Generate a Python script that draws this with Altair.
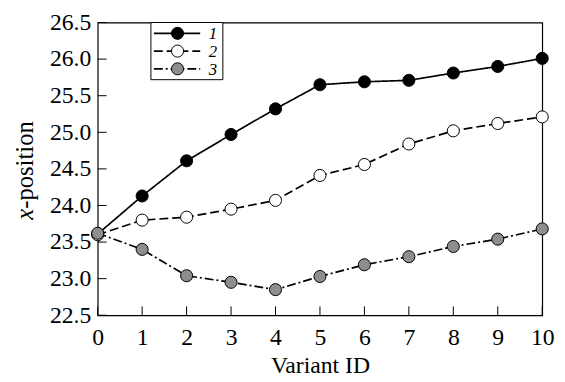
import altair as alt
import pandas as pd

# ---- data ----
variant_ids = list(range(11))
series_1 = [23.61, 24.13, 24.61, 24.97, 25.32, 25.65, 25.69, 25.71, 25.81, 25.90, 26.01]
series_2 = [23.60, 23.80, 23.84, 23.95, 24.07, 24.41, 24.56, 24.84, 25.02, 25.12, 25.21]
series_3 = [23.62, 23.40, 23.04, 22.95, 22.85, 23.03, 23.19, 23.30, 23.44, 23.54, 23.68]
series_names = ["1", "2", "3"]
x_ticks = list(range(11))
y_ticks = [22.5, 23.0, 23.5, 24.0, 24.5, 25.0, 25.5, 26.0, 26.5]

rows = []
for name, vals in zip(series_names, [series_1, series_2, series_3]):
    for v, y in zip(variant_ids, vals):
        rows.append({"series": name, "variant": v, "value": y})
df = pd.DataFrame(rows)

FONT = "Liberation Serif"
W, H = 451, 297

xscale = alt.Scale(domain=[0, 10], nice=False, zero=False)
yscale = alt.Scale(domain=[22.5, 26.5], nice=False, zero=False)

x_enc = alt.X("variant:Q", scale=xscale,
              axis=alt.Axis(values=x_ticks, title="Variant ID", ticks=False, tickSize=0,
                            domain=False, grid=False, labelPadding=11, titlePadding=4,
                            labelFlush=False))
y_enc = alt.Y("value:Q", scale=yscale,
              axis=alt.Axis(values=y_ticks, format=".1f", title=None, ticks=False, tickSize=0,
                            domain=False, grid=False, labelPadding=7,
                            labelFlush=False))

dash_scale = alt.Scale(domain=series_names, range=[[1, 0], [9, 4], [9, 3, 2, 3]])
fill_scale = alt.Scale(domain=series_names, range=["black", "white", "#8e8e8e"])

lines = alt.Chart(df).mark_line(color="black", strokeWidth=1.7).encode(
    x=x_enc, y=y_enc,
    strokeDash=alt.StrokeDash("series:N", scale=dash_scale, legend=None),
    detail="series:N",
)
points = alt.Chart(df).mark_circle(size=150, stroke="black", strokeWidth=1, opacity=1).encode(
    x=x_enc, y=y_enc,
    fill=alt.Fill("series:N", scale=fill_scale, legend=None),
)

# inward ticks
xt = alt.Chart(pd.DataFrame({"variant": x_ticks})).mark_rule(color="black", strokeWidth=1).encode(
    x=x_enc, y=alt.value(H), y2=alt.value(H - 9))
yt = alt.Chart(pd.DataFrame({"value": y_ticks})).mark_rule(color="black", strokeWidth=1).encode(
    y=y_enc, x=alt.value(0), x2=alt.value(9))

one = pd.DataFrame({"a": [0]})

# y title with italic x
ytitle_x = alt.Chart(one).mark_text(text="x", font=FONT, fontSize=25, fontStyle="italic",
                                     angle=270, align="left", baseline="middle", color="black").encode(
    x=alt.value(-74), y=alt.value(200))
ytitle_rest = alt.Chart(one).mark_text(text="-position", font=FONT, fontSize=25,
                                        angle=270, align="left", baseline="middle", color="black").encode(
    x=alt.value(-74), y=alt.value(189))

# manual legend
legend_layers = [
    alt.Chart(one).mark_rect(fill="white", stroke="black", strokeWidth=1).encode(
        x=alt.value(54), x2=alt.value(127), y=alt.value(0), y2=alt.value(58))
]
legend_rows = [11, 29, 47]
dashes = [[1, 0], [9, 4], [9, 3, 2, 3]]
fills = ["black", "white", "#8e8e8e"]
for name, ry, dsh, fc in zip(series_names, legend_rows, dashes, fills):
    legend_layers.append(alt.Chart(one).mark_rule(color="black", strokeWidth=1.7, strokeDash=dsh).encode(
        x=alt.value(57), x2=alt.value(104), y=alt.value(ry)))
    legend_layers.append(alt.Chart(one).mark_circle(size=150, stroke="black", strokeWidth=1, opacity=1, fill=fc).encode(
        x=alt.value(81), y=alt.value(ry)))
    legend_layers.append(alt.Chart(one).mark_text(text=name, font=FONT, fontSize=17, fontStyle="italic",
                                                  align="center", baseline="middle", color="black").encode(
        x=alt.value(117), y=alt.value(ry + 1)))

chart = alt.layer(lines, points, xt, yt, ytitle_x, ytitle_rest, *legend_layers).properties(
    width=W, height=H,
    padding={"left": 91, "top": 12, "right": 15, "bottom": 65},
    autosize="none",
).configure(
    background="white", font=FONT
).configure_axis(
    labelFont=FONT, titleFont=FONT, labelFontSize=24, titleFontSize=24,
    labelColor="black", titleColor="black", titleFontWeight="normal",
).configure_view(stroke="black", strokeWidth=1.2)

chart.save("out.html", embed_options={"renderer": "svg", "actions": False})
